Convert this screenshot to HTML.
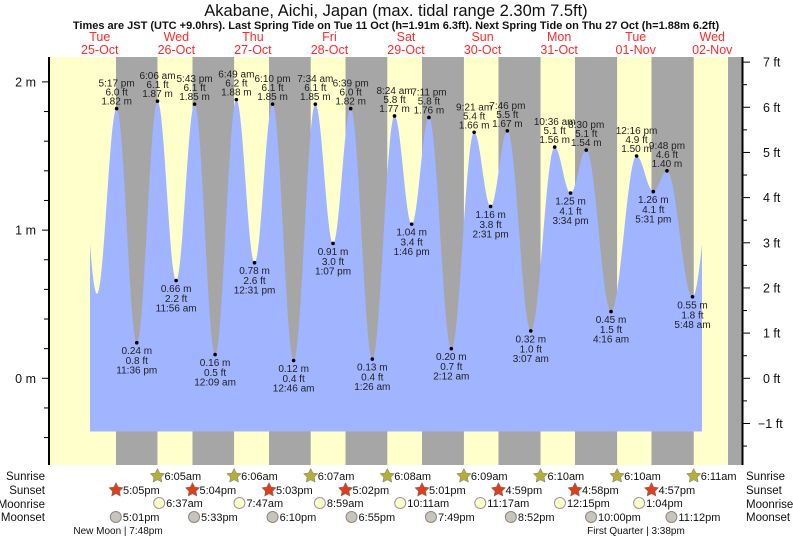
<!DOCTYPE html>
<html><head><meta charset="utf-8"><style>
html,body{margin:0;padding:0;background:#fff;}
svg{display:block;font-family:"Liberation Sans",Arial,sans-serif;}
</style></head><body>
<svg id="chart" width="793" height="539" viewBox="0 0 793 539">
<text x="396" y="16" text-anchor="middle" font-size="16.5" fill="#111">Akabane, Aichi, Japan (max. tidal range 2.30m 7.5ft)</text>
<text x="396" y="29" text-anchor="middle" font-size="11" font-weight="bold" fill="#111">Times are JST (UTC +9.0hrs). Last Spring Tide on Tue 11 Oct (h=1.91m 6.3ft). Next Spring Tide on Thu 27 Oct (h=1.88m 6.2ft)</text>
<g id="bands"></g>
<g id="tide"></g>
<g id="axes"></g>
<g id="labels"></g>
<g id="astro"></g>
</svg>
<script>
// ---- data (hours since 25-Oct 00:00 JST) ----
const dayNames = ["Tue","Wed","Thu","Fri","Sat","Sun","Mon","Tue","Wed"];
const dayDates = ["25-Oct","26-Oct","27-Oct","28-Oct","29-Oct","30-Oct","31-Oct","01-Nov","02-Nov"];
const sunriseTimes = [30.083,54.1,78.117,102.133,126.15,150.167,174.167,198.183];
const sunriseLabels = ["6:05am","6:06am","6:07am","6:08am","6:09am","6:10am","6:10am","6:11am"];
const sunsetTimes = [17.083,41.067,65.05,89.033,113.017,136.983,160.967,184.95,208.93];
const sunsetLabels = ["5:05pm","5:04pm","5:03pm","5:02pm","5:01pm","4:59pm","4:58pm","4:57pm"];
const moonriseTimes = [30.617,55.783,80.983,106.183,131.283,156.25,181.067];
const moonriseLabels = ["6:37am","7:47am","8:59am","10:11am","11:17am","12:15pm","1:04pm"];
const moonsetTimes = [17.017,41.55,66.167,90.917,115.817,140.867,166.0,191.2];
const moonsetLabels = ["5:01pm","5:33pm","6:10pm","6:55pm","7:49pm","8:52pm","10:00pm","11:12pm"];
const tideTimes = [4.9,11.1,17.283,23.6,30.1,35.933,41.717,48.15,54.817,60.517,66.167,72.767,79.567,85.117,90.65,97.433,104.4,109.767,115.183,122.2,129.35,134.517,139.767,147.117,154.6,159.567,164.5,172.267,180.267,185.517,189.8,197.8,204.5];
const tideHeights = [1.8,0.57,1.82,0.24,1.87,0.66,1.85,0.16,1.88,0.78,1.85,0.12,1.85,0.91,1.82,0.13,1.77,1.04,1.76,0.20,1.66,1.16,1.67,0.32,1.56,1.25,1.54,0.45,1.50,1.26,1.40,0.55,1.4];
const tideLabelTimes = ["","","5:17 pm","11:36 pm","6:06 am","11:56 am","5:43 pm","12:09 am","6:49 am","12:31 pm","6:10 pm","12:46 am","7:34 am","1:07 pm","6:39 pm","1:26 am","8:24 am","1:46 pm","7:11 pm","2:12 am","9:21 am","2:31 pm","7:46 pm","3:07 am","10:36 am","3:34 pm","8:30 pm","4:16 am","12:16 pm","5:31 pm","9:48 pm","5:48 am",""];
const mTicks = [2,1,0];
const ftTicks = [7,6,5,4,3,2,1,0,-1];

// ---- scales ----
const X0=61.5, PXH=76.56/24;
const x = t => X0 + t*PXH;
const y = m => 378.3 - m*148.2;
const PL=49, PR=742.5, PT=57, PB=465;
const NS="http://www.w3.org/2000/svg";
function mk(tag, parent, attrs){const e=document.createElementNS(NS,tag);for(const k in attrs)e.setAttribute(k,attrs[k]);document.getElementById(parent).appendChild(e);return e;}

// bands
let r=mk('rect','bands',{x:PL,y:PT,width:PR-PL,height:PB-PT,fill:'#ffffcc'});


for(let i=0;i<sunsetTimes.length;i++){
  const s=x(sunsetTimes[i]);
  const e=i<sunriseTimes.length?x(sunriseTimes[i]):PR;
  const b=mk('rect','bands',{x:s,y:PT,width:Math.min(e,PR)-s,height:PB-PT,fill:'#a6a6a6'});
  
  
}
// day labels
for(let i=0;i<dayNames.length;i++){
  const cx=x(i*24+12);
  const t1=mk('text','axes',{x:cx,y:41,'text-anchor':'middle','font-size':12.5,fill:'#ff2a2a'});t1.textContent=dayNames[i];
  
  
  const t2=mk('text','axes',{x:cx,y:54,'text-anchor':'middle','font-size':12.5,fill:'#ff2a2a'});t2.textContent=dayDates[i];
  
  
}
// tide curve
const xs=90, xe=702;
function hAt(t){
  for(let i=0;i<tideTimes.length-1;i++){
    if(t>=tideTimes[i]&&t<=tideTimes[i+1]){
      const f=(t-tideTimes[i])/(tideTimes[i+1]-tideTimes[i]);
      return tideHeights[i]+(tideHeights[i+1]-tideHeights[i])*(1-Math.cos(Math.PI*f))/2;
    }
  }
  return tideHeights[tideHeights.length-1];
}
let d=`M${xs},431.5`;
for(let px=xs;px<=xe;px+=0.5){const t=(px-X0)/PXH;d+=` L${px},${y(hAt(t)).toFixed(2)}`;}
d+=` L${xe},431.5 Z`;
const p=mk('path','tide',{d:d,fill:'#a0b4ff'});


// extreme labels
for(let i=0;i<tideTimes.length;i++){
  if(!tideLabelTimes[i])continue;
  const px=x(tideTimes[i]), py=y(tideHeights[i]);
  const high = tideHeights[i] > (tideHeights[i-1]||0);
  const dot=mk('circle','labels',{cx:px,cy:py,r:1.8,fill:'#000'});
  
  
  const ft=(tideHeights[i]*3.28084).toFixed(1)+' ft';
  const mt=tideHeights[i].toFixed(2)+' m';
  const lines = high ? [[tideLabelTimes[i],-22],[ft,-13],[mt,-4]] : [[mt,11.5],[ft,21.5],[tideLabelTimes[i],31]];
  for(const [s,o] of lines){
    const t=mk('text','labels',{x:px,y:py+o,'text-anchor':'middle','font-size':10,fill:'#222'});t.textContent=s;
    
    
  }
}
// axes
let a=mk('line','axes',{x1:PL,y1:PT,x2:PL,y2:PB,stroke:'#000','stroke-width':2});


a=mk('line','axes',{x1:PR,y1:PT,x2:PR,y2:PB,stroke:'#000','stroke-width':2});


for(let v=-0.4;v<=2.3;v+=0.2){
  const yy=y(v); if(yy<PT||yy>PB)continue;
  const major=Math.abs(v-Math.round(v))<0.01;
  mk('line','axes',{x1:major?42:44,y1:yy,x2:PL,y2:yy,stroke:'#000','stroke-width':1});
}
for(const m of mTicks){
  const t=mk('text','axes',{x:36,y:y(m)+4.5,'text-anchor':'end','font-size':12.5,fill:'#111'});t.textContent=m+' m';
  
  
}
for(let v=-1.5;v<=7.5;v+=0.5){
  const yy=y(v*0.3048); if(yy<PT||yy>PB)continue;
  const major=Number.isInteger(v);
  mk('line','axes',{x1:PR,y1:yy,x2:major?750:747,y2:yy,stroke:'#000','stroke-width':1});
}
for(const f of ftTicks){
  const t=mk('text','axes',{x:f<0?758:763,y:y(f*0.3048)+4.5,'font-size':12.5,fill:'#111'});t.textContent=(f<0?'\u2212'+(-f):f)+' ft';
  
  
}
// astro rows
const rows=[["Sunrise",480],["Sunset",494],["Moonrise",508],["Moonset",521]];
for(const [n,yy] of rows){
  let t=mk('text','astro',{x:45,y:yy,'text-anchor':'end','font-size':11.5,fill:'#111'});t.textContent=n;
  
  
  t=mk('text','astro',{x:746,y:yy,'font-size':11.5,fill:'#111'});t.textContent=n;
  
  
}
function star(cx,cy,R,fill){
  let pts=[];for(let k=0;k<10;k++){const rr=k%2?R*0.5:R;const ang=-Math.PI/2+k*Math.PI/5;pts.push((cx+rr*Math.cos(ang)).toFixed(1)+','+(cy+rr*Math.sin(ang)).toFixed(1));}
  return mk('polygon','astro',{points:pts.join(' '),fill:fill,stroke:'#777','stroke-width':0.5});
}
sunriseTimes.forEach((t,i)=>{const cx=x(t);const s=star(cx,476,7.5,'#b5ae38');
  
  
  const tx=mk('text','astro',{x:cx+7,y:480,'font-size':11,fill:'#111'});tx.textContent=sunriseLabels[i];
  
  });
sunsetLabels.forEach((l,i)=>{const cx=x(sunsetTimes[i]);const s=star(cx,490,7.5,'#d8401e');
  
  
  const tx=mk('text','astro',{x:cx+7,y:494,'font-size':11,fill:'#111'});tx.textContent=l;
  
  });
moonriseTimes.forEach((t,i)=>{const cx=x(t);const c=mk('circle','astro',{cx:cx,cy:503,r:5.5,fill:'#ffffcc',stroke:'#999'});
  
  
  const tx=mk('text','astro',{x:cx+7,y:507,'font-size':11,fill:'#111'});tx.textContent=moonriseLabels[i];
  
  });
moonsetTimes.forEach((t,i)=>{const cx=x(t);const c=mk('circle','astro',{cx:cx,cy:517,r:5.5,fill:'#c8c5b8',stroke:'#888'});
  
  
  const tx=mk('text','astro',{x:cx+7,y:521,'font-size':11,fill:'#111'});tx.textContent=moonsetLabels[i];
  
  });
let ph=mk('text','astro',{x:118,y:534,'text-anchor':'middle','font-size':10,fill:'#111'});ph.textContent='New Moon | 7:48pm';


ph=mk('text','astro',{x:636,y:534,'text-anchor':'middle','font-size':10,fill:'#111'});ph.textContent='First Quarter | 3:38pm';


</script>
</body></html>
